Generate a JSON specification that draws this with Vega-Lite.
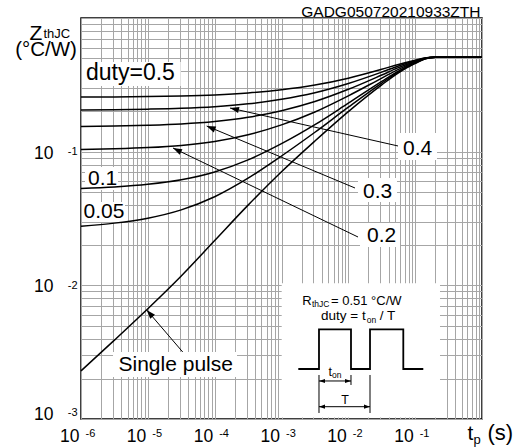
{
  "$schema": "https://vega.github.io/schema/vega-lite/v6.json",
  "width": 401,
  "height": 401,
  "autosize": {"type": "none"},
  "padding": {"left": 81, "top": 18, "right": 41, "bottom": 29},
  "background": "white",
  "config": {
    "font": "Liberation Sans",
    "view": {"stroke": "black", "strokeWidth": 1.5},
    "axis": {
      "ticks": false, "tickSize": 0, "domain": false,
      "labelFlush": false, "labelOverlap": false, "labelBound": false,
      "labelFont": "Liberation Sans", "labelColor": "black",
      "titleFont": "Liberation Sans", "titleColor": "black", "titleFontWeight": "normal",
      "gridColor": "#a6a6a6", "gridWidth": 1, "gridOpacity": 1
    }
  },
  "resolve": {"axis": {"x": "independent", "y": "independent"}},
  "layer": [
    {
      "data": {"values": [
        {"t1": 1.035e-6, "t2": 3.1e-5, "z1": 0.4688, "z2": 0.3099},
        {"t1": 0.05536, "t2": 0.2122, "z1": 0.1379, "z2": 0.08664},
        {"t1": 0.01396, "t2": 0.05348, "z1": 0.06353, "z2": 0.04202},
        {"t1": 0.01495, "t2": 0.0593, "z1": 0.02927, "z2": 0.01935},
        {"t1": 1.148e-6, "t2": 3.577e-6, "z1": 0.07679, "z2": 0.05167},
        {"t1": 1.035e-6, "t2": 4.553e-6, "z1": 0.04202, "z2": 0.02977},
        {"t1": 3.012e-6, "t2": 2.159e-4, "z1": 0.003172, "z2": 0.002062},
        {"t1": 1.007e-3, "t2": 0.2352, "z1": 0.01036, "z2": 0.001026}
      ]},
      "mark": {"type": "rect", "fill": "white", "strokeWidth": 0},
      "encoding": {
        "x": {"field": "t1", "type": "quantitative", "scale": {"type": "log", "domain": [0.000001, 1], "nice": false},
          "axis": {"orient": "bottom", "values": [0.000001, 0.00001, 0.0001, 0.001, 0.01, 0.1], "grid": false,
            "labelExpr": "'' + round(log(datum.value)/LN10)", "labelAlign": "left", "labelOffset": 4, "labelBaseline": "alphabetic", "labelPadding": 17.5, "labelFontSize": 11,
            "title": "p", "titleX": 392, "titleY": 24, "titleAlign": "left", "titleBaseline": "alphabetic", "titleFontSize": 13}},
        "x2": {"field": "t2"},
        "y": {"field": "z1", "type": "quantitative", "scale": {"type": "log", "domain": [0.001, 1], "nice": false},
          "axis": {"orient": "left", "values": [0.001, 0.01, 0.1], "grid": false,
            "labelExpr": "'' + round(log(datum.value)/LN10)", "labelAlign": "right", "labelBaseline": "alphabetic",
            "labelOffset": {"condition": {"test": "datum.value < 0.002", "value": -4}, "value": 3},
            "labelPadding": 4, "labelFontSize": 11,
            "title": "thJC", "titleX": -38, "titleY": 19, "titleAlign": "left", "titleBaseline": "alphabetic", "titleAngle": 0, "titleFontSize": 13}},
        "y2": {"field": "z2"}
      }
    },
    {
      "data": {"values": [
        {"t": 1e-6, "a": 0.2561, "b": 0.2054, "c": 0.1546, "d": 0.1038, "e": 0.0531, "f": 0.0277, "g": 0.00229},
        {"t": 3.162e-6, "a": 0.2569, "b": 0.2063, "c": 0.1557, "d": 0.1051, "e": 0.0545, "f": 0.0292, "g": 0.00389},
        {"t": 1e-5, "a": 0.2583, "b": 0.208, "c": 0.1577, "d": 0.1073, "e": 0.057, "f": 0.0318, "g": 0.00668},
        {"t": 3.162e-5, "a": 0.2609, "b": 0.211, "c": 0.1612, "d": 0.1114, "e": 0.0616, "f": 0.0367, "g": 0.01175},
        {"t": 1e-4, "a": 0.2658, "b": 0.217, "c": 0.1681, "d": 0.1193, "e": 0.0705, "f": 0.046, "g": 0.02163},
        {"t": 3.162e-4, "a": 0.2749, "b": 0.2279, "c": 0.1809, "d": 0.1338, "e": 0.0868, "f": 0.0633, "g": 0.03981},
        {"t": 1e-3, "a": 0.2904, "b": 0.2465, "c": 0.2026, "d": 0.1586, "e": 0.1147, "f": 0.0928, "g": 0.0708},
        {"t": 3.162e-3, "a": 0.3151, "b": 0.2761, "c": 0.2372, "d": 0.1982, "e": 0.1592, "f": 0.1397, "g": 0.1202},
        {"t": 0.01, "a": 0.3548, "b": 0.3237, "c": 0.2927, "d": 0.2616, "e": 0.2306, "f": 0.2151, "g": 0.1995},
        {"t": 0.03162, "a": 0.4131, "b": 0.3937, "c": 0.3744, "d": 0.355, "e": 0.3356, "f": 0.3259, "g": 0.3162},
        {"t": 0.05623, "a": 0.4495, "b": 0.4374, "c": 0.4253, "d": 0.4132, "e": 0.4011, "f": 0.3951, "g": 0.389},
        {"t": 0.1, "a": 0.4835, "b": 0.4783, "c": 0.473, "d": 0.4677, "e": 0.4624, "f": 0.4597, "g": 0.4571},
        {"t": 0.1413, "a": 0.5027, "b": 0.5013, "c": 0.4998, "d": 0.4984, "e": 0.4969, "f": 0.4962, "g": 0.4955},
        {"t": 0.1995, "a": 0.5097, "b": 0.5096, "c": 0.5095, "d": 0.5095, "e": 0.5094, "f": 0.5094, "g": 0.5093},
        {"t": 0.2512, "a": 0.51, "b": 0.51, "c": 0.51, "d": 0.51, "e": 0.51, "f": 0.51, "g": 0.51},
        {"t": 1, "a": 0.51, "b": 0.51, "c": 0.51, "d": 0.51, "e": 0.51, "f": 0.51, "g": 0.51}
      ]},
      "transform": [{"fold": ["a", "b", "c", "d", "e", "f", "g"], "as": ["k", "z"]}],
      "mark": {"type": "line", "color": "black", "strokeWidth": 1.5, "interpolate": "monotone"},
      "encoding": {
        "x": {"field": "t", "type": "quantitative", "scale": {"type": "log", "domain": [0.000001, 1], "nice": false},
          "axis": {"orient": "bottom", "grid": true,
            "values": [1e-6, 2e-6, 3e-6, 4e-6, 5e-6, 6e-6, 7e-6, 8e-6, 9e-6, 1e-5, 2e-5, 3e-5, 4e-5, 5e-5, 6e-5, 7e-5, 8e-5, 9e-5, 1e-4, 2e-4, 3e-4, 4e-4, 5e-4, 6e-4, 7e-4, 8e-4, 9e-4, 1e-3, 2e-3, 3e-3, 4e-3, 5e-3, 6e-3, 7e-3, 8e-3, 9e-3, 0.01, 0.02, 0.03, 0.04, 0.05, 0.06, 0.07, 0.08, 0.09, 0.1, 0.2, 0.3, 0.4, 0.5, 0.6, 0.7, 0.8, 0.9, 1],
            "labelExpr": "abs(log(datum.value)/LN10 - round(log(datum.value)/LN10)) < 0.001 && datum.value < 0.5 ? '10' : ''",
            "labelAlign": "right", "labelOffset": -2, "labelBaseline": "alphabetic", "labelPadding": 22.5, "labelFontSize": 17.5,
            "title": "t", "titleX": 386, "titleY": 20, "titleAlign": "left", "titleBaseline": "alphabetic", "titleFontSize": 21}},
        "y": {"field": "z", "type": "quantitative", "scale": {"type": "log", "domain": [0.001, 1], "nice": false},
          "axis": {"orient": "left", "grid": true,
            "values": [0.001, 0.002, 0.003, 0.004, 0.005, 0.006, 0.007, 0.008, 0.009, 0.01, 0.02, 0.03, 0.04, 0.05, 0.06, 0.07, 0.08, 0.09, 0.1, 0.2, 0.3, 0.4, 0.5, 0.6, 0.7, 0.8, 0.9, 1],
            "labelExpr": "abs(log(datum.value)/LN10 - round(log(datum.value)/LN10)) < 0.001 && datum.value < 0.5 ? '10' : ''",
            "labelAlign": "right", "labelBaseline": "alphabetic",
            "labelOffset": {"condition": {"test": "datum.value < 0.002", "value": 0.5}, "value": 6.5},
            "labelPadding": 28, "labelFontSize": 17.5,
            "title": "Z", "titleX": -52, "titleY": 21, "titleAlign": "left", "titleBaseline": "alphabetic", "titleAngle": 0, "titleFontSize": 21}},
        "detail": {"field": "k"}
      }
    },
    {
      "data": {"values": [
        {"t1": 1.696e-4, "z1": 0.2121, "t2": 0.05536, "z2": 0.1103},
        {"t1": 7.598e-5, "z1": 0.1556, "t2": 0.01258, "z2": 0.05348},
        {"t1": 2.379e-5, "z1": 0.1065, "t2": 0.01396, "z2": 0.02299},
        {"t1": 9.617e-6, "z1": 0.006538, "t2": 3.323e-5, "z2": 0.003172},
        {"t1": 3.639e-3, "z1": 0.002134, "t2": 3.639e-3, "z2": 0.001109},
        {"t1": 0.01096, "z1": 0.002134, "t2": 0.01096, "z2": 0.001797},
        {"t1": 0.0211, "z1": 0.002134, "t2": 0.0211, "z2": 0.001109},
        {"t1": 3.639e-3, "z1": 0.001925, "t2": 0.01096, "z2": 0.001925},
        {"t1": 3.639e-3, "z1": 0.001236, "t2": 0.0211, "z2": 0.001236}
      ]},
      "mark": {"type": "rule", "color": "black", "strokeWidth": 1},
      "encoding": {
        "x": {"field": "t1", "type": "quantitative", "scale": {"type": "log"}, "axis": null},
        "x2": {"field": "t2"},
        "y": {"field": "z1", "type": "quantitative", "scale": {"type": "log"}, "axis": null},
        "y2": {"field": "z2"}
      }
    },
    {
      "data": {"values": [
        {"i": 0, "t": 1.784e-3, "z": 0.002366},
        {"i": 1, "t": 3.639e-3, "z": 0.002366},
        {"i": 2, "t": 3.639e-3, "z": 0.00469},
        {"i": 3, "t": 0.01096, "z": 0.00469},
        {"i": 4, "t": 0.01096, "z": 0.002366},
        {"i": 5, "t": 0.0211, "z": 0.002366},
        {"i": 6, "t": 0.0211, "z": 0.00469},
        {"i": 7, "t": 0.06644, "z": 0.00469},
        {"i": 8, "t": 0.06644, "z": 0.002366},
        {"i": 9, "t": 0.1323, "z": 0.002366}
      ]},
      "mark": {"type": "line", "color": "black", "strokeWidth": 1.8},
      "encoding": {
        "x": {"field": "t", "type": "quantitative", "scale": {"type": "log"}, "axis": null},
        "y": {"field": "z", "type": "quantitative", "scale": {"type": "log"}, "axis": null},
        "order": {"field": "i", "type": "quantitative"}
      }
    },
    {
      "data": {"values": [{"t": 1.696e-4, "z": 0.2121}]},
      "mark": {"type": "point", "shape": "M0,0L0.7,2L-0.7,2Z", "filled": true, "color": "black", "opacity": 1, "size": 81, "angle": 283},
      "encoding": {"x": {"field": "t", "type": "quantitative", "scale": {"type": "log"}, "axis": null}, "y": {"field": "z", "type": "quantitative", "scale": {"type": "log"}, "axis": null}}
    },
    {
      "data": {"values": [{"t": 7.598e-5, "z": 0.1556}]},
      "mark": {"type": "point", "shape": "M0,0L0.7,2L-0.7,2Z", "filled": true, "color": "black", "opacity": 1, "size": 81, "angle": 293},
      "encoding": {"x": {"field": "t", "type": "quantitative", "scale": {"type": "log"}, "axis": null}, "y": {"field": "z", "type": "quantitative", "scale": {"type": "log"}, "axis": null}}
    },
    {
      "data": {"values": [{"t": 2.379e-5, "z": 0.1065}]},
      "mark": {"type": "point", "shape": "M0,0L0.7,2L-0.7,2Z", "filled": true, "color": "black", "opacity": 1, "size": 81, "angle": 296},
      "encoding": {"x": {"field": "t", "type": "quantitative", "scale": {"type": "log"}, "axis": null}, "y": {"field": "z", "type": "quantitative", "scale": {"type": "log"}, "axis": null}}
    },
    {
      "data": {"values": [{"t": 9.617e-6, "z": 0.006538}]},
      "mark": {"type": "point", "shape": "M0,0L0.7,2L-0.7,2Z", "filled": true, "color": "black", "opacity": 1, "size": 81, "angle": 319},
      "encoding": {"x": {"field": "t", "type": "quantitative", "scale": {"type": "log"}, "axis": null}, "y": {"field": "z", "type": "quantitative", "scale": {"type": "log"}, "axis": null}}
    },
    {
      "data": {"values": [{"t": 3.639e-3, "z": 0.001925}, {"t": 3.639e-3, "z": 0.001236}]},
      "mark": {"type": "point", "shape": "M0,0L0.7,2L-0.7,2Z", "filled": true, "color": "black", "opacity": 1, "size": 36, "angle": 270},
      "encoding": {"x": {"field": "t", "type": "quantitative", "scale": {"type": "log"}, "axis": null}, "y": {"field": "z", "type": "quantitative", "scale": {"type": "log"}, "axis": null}}
    },
    {
      "data": {"values": [{"t": 0.01096, "z": 0.001925}, {"t": 0.0211, "z": 0.001236}]},
      "mark": {"type": "point", "shape": "M0,0L0.7,2L-0.7,2Z", "filled": true, "color": "black", "opacity": 1, "size": 36, "angle": 90},
      "encoding": {"x": {"field": "t", "type": "quantitative", "scale": {"type": "log"}, "axis": null}, "y": {"field": "z", "type": "quantitative", "scale": {"type": "log"}, "axis": null}}
    },
    {
      "data": {"values": [
        {"t": 0.06575, "z": 0.09443, "s": "0.4"},
        {"t": 0.01658, "z": 0.04501, "s": "0.3"},
        {"t": 0.01903, "z": 0.02092, "s": "0.2"},
        {"t": 1.273e-6, "z": 0.05632, "s": "0.1"},
        {"t": 1.09e-6, "z": 0.0319, "s": "0.05"},
        {"t": 3.639e-6, "z": 0.002286, "s": "Single pulse"}
      ]},
      "mark": {"type": "text", "align": "left", "baseline": "alphabetic", "fontSize": 21, "font": "Liberation Sans", "color": "black"},
      "encoding": {
        "x": {"field": "t", "type": "quantitative", "scale": {"type": "log"},
          "axis": {"orient": "bottom", "labels": false, "grid": false, "title": "(s)", "titleX": 406, "titleY": 20, "titleAlign": "left", "titleBaseline": "alphabetic", "titleFontSize": 22}},
        "y": {"field": "z", "type": "quantitative", "scale": {"type": "log"},
          "axis": {"orient": "left", "labels": false, "grid": false, "title": "(°C/W)", "titleX": -66.3, "titleY": 37.5, "titleAlign": "left", "titleBaseline": "alphabetic", "titleAngle": 0, "titleFontSize": 20.5}},
        "text": {"field": "s"}
      }
    },
    {
      "data": {"values": [{"t": 1.188e-6, "z": 0.3438, "s": "duty=0.5"}]},
      "mark": {"type": "text", "align": "left", "baseline": "alphabetic", "fontSize": 23, "font": "Liberation Sans", "color": "black"},
      "encoding": {
        "x": {"field": "t", "type": "quantitative", "scale": {"type": "log"}, "axis": null},
        "y": {"field": "z", "type": "quantitative", "scale": {"type": "log"}, "axis": null},
        "text": {"field": "s"}
      }
    },
    {
      "data": {"values": [{"t": 1, "z": 1, "s": "GADG050720210933ZTH"}]},
      "mark": {"type": "text", "align": "right", "baseline": "alphabetic", "fontSize": 15.5, "font": "Liberation Sans", "color": "black", "dx": -1.5, "dy": -1},
      "encoding": {
        "x": {"field": "t", "type": "quantitative", "scale": {"type": "log"}, "axis": null},
        "y": {"field": "z", "type": "quantitative", "scale": {"type": "log"}, "axis": null},
        "text": {"field": "s"}
      }
    },
    {
      "data": {"values": [
        {"t": 2.047e-3, "z": 0.007127, "s": "R"},
        {"t": 5.504e-3, "z": 0.007127, "s": "= 0.51 °C/W"}
      ]},
      "mark": {"type": "text", "align": "left", "baseline": "alphabetic", "fontSize": 13, "font": "Liberation Sans", "color": "black"},
      "encoding": {
        "x": {"field": "t", "type": "quantitative", "scale": {"type": "log"}, "axis": null},
        "y": {"field": "z", "type": "quantitative", "scale": {"type": "log"}, "axis": null},
        "text": {"field": "s"}
      }
    },
    {
      "data": {"values": [
        {"t": 3.901e-3, "z": 0.005458, "s": "duty = t"},
        {"t": 0.0296, "z": 0.005458, "s": "/ T"}
      ]},
      "mark": {"type": "text", "align": "left", "baseline": "alphabetic", "fontSize": 13.5, "font": "Liberation Sans", "color": "black"},
      "encoding": {
        "x": {"field": "t", "type": "quantitative", "scale": {"type": "log"}, "axis": null},
        "y": {"field": "z", "type": "quantitative", "scale": {"type": "log"}, "axis": null},
        "text": {"field": "s"}
      }
    },
    {
      "data": {"values": [
        {"t": 2.86e-3, "z": 0.006885, "s": "thJC"},
        {"t": 0.0188, "z": 0.005228, "s": "on"},
        {"t": 5.697e-3, "z": 0.002027, "s": "on"}
      ]},
      "mark": {"type": "text", "align": "left", "baseline": "alphabetic", "fontSize": 8.5, "font": "Liberation Sans", "color": "black"},
      "encoding": {
        "x": {"field": "t", "type": "quantitative", "scale": {"type": "log"}, "axis": null},
        "y": {"field": "z", "type": "quantitative", "scale": {"type": "log"}, "axis": null},
        "text": {"field": "s"}
      }
    },
    {
      "data": {"values": [
        {"t": 5.065e-3, "z": 0.002098, "s": "t"},
        {"t": 7.848e-3, "z": 0.001295, "s": "T"}
      ]},
      "mark": {"type": "text", "align": "left", "baseline": "alphabetic", "fontSize": 12.5, "font": "Liberation Sans", "color": "black"},
      "encoding": {
        "x": {"field": "t", "type": "quantitative", "scale": {"type": "log"}, "axis": null},
        "y": {"field": "z", "type": "quantitative", "scale": {"type": "log"}, "axis": null},
        "text": {"field": "s"}
      }
    }
  ]
}
